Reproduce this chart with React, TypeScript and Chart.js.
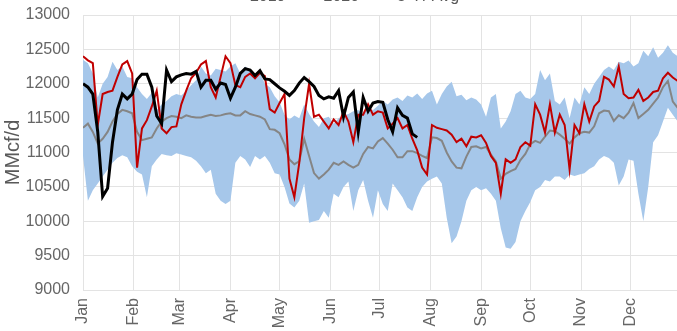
import { useEffect, useRef } from "react";
import { Chart, registerables } from "chart.js";

Chart.register(...registerables);

// Daily pipeline flow, MMcf/d, sampled every DAY_STEP days from Jan 1.
const DAY_STEP = 3;
const MONTHS = ["Jan", "Feb", "Mar", "Apr", "May", "Jun", "Jul", "Aug", "Sep", "Oct", "Nov", "Dec"];
const MONTH_START_DAYS = [0, 31, 59, 90, 120, 151, 181, 212, 243, 273, 304, 334];
const Y_MIN = 9000;
const Y_MAX = 13000;
const Y_STEP = 500;

const FLOW_2019 = [
  12400, 12340, 12300, 11400, 11850, 11880, 11900, 12100, 12280, 12330,
  12150, 10780, 11350, 11470, 11670, 11900, 11350, 11280, 11370, 11380,
  11700, 11900, 12080, 12160, 12280, 12330, 11950, 11800, 12100, 12400,
  12300, 11980, 11950, 12100, 12150, 12080, 12160, 12110, 11630, 11580,
  11720, 11850, 10620, 10350, 10850, 11500, 12000, 11520, 11550, 11450,
  11350, 11480, 11400, 11600, 11450, 11150, 11550, 11550, 11700, 11550,
  11600, 11580, 11350, 11420, 11500, 11350, 11400, 11200, 11030, 10780,
  10680, 11400, 11360, 11340, 11320, 11260, 11150, 11200, 11090, 11230,
  11220, 11250, 11140, 10950, 10850, 10400, 10900, 10850, 10900, 11080,
  11150, 11100, 11700, 11550, 11290, 11700, 11290, 11550, 11400, 10750,
  11400, 11280, 11700, 11450, 11670, 11750, 12100, 12060, 11960, 12250,
  11850, 11790, 11800, 11910, 11750, 11800, 11880, 11900, 12080, 12160,
  12090, 12040,
];

const FLOW_2020 = [
  12000, 11950, 11850, 11300, 10360, 10480, 11150, 11620, 11850, 11780,
  11850, 12060, 12140, 12140, 11950, 11530, 11420, 12200, 12030, 12100,
  12130, 12150, 12140, 12180, 11950, 12050, 12050, 11920, 12010, 11990,
  11790, 11950, 12150, 12220, 12200, 12120, 12190, 12070, 12060, 12000,
  11940, 11890, 11830, 11900, 12010, 12090, 12030, 11960, 11830, 11780,
  11810, 11790, 11900, 11520, 11800, 11880, 11300, 11800, 11600, 11720,
  11740, 11730, 11480, 11300, 11650, 11540, 11500, 11270, 11220,
];

const FIVE_YR_AVG = [
  11360, 11420, 11300, 11130, 11200, 11300, 11450, 11560, 11620, 11600,
  11570, 11300, 11180, 11200, 11220, 11350, 11450, 11500, 11530, 11520,
  11500, 11540, 11520, 11510, 11510, 11530, 11550, 11530, 11540, 11560,
  11570, 11540, 11540, 11600, 11560, 11540, 11520, 11480, 11340, 11330,
  11280, 11120, 10900, 10830, 10870, 11200, 10950, 10700, 10620, 10680,
  10750, 10850, 10820, 10870, 10820, 10780, 10820, 10980, 11080, 11060,
  11160, 11210, 11130, 11040, 10930, 10930, 11020, 11020, 10990, 10950,
  10920, 11220, 11210, 11170, 11000, 10870, 10780, 10770, 10940, 11080,
  11090, 11060, 11080, 10970, 10870, 10620, 10690, 10730, 10760, 10890,
  10980, 11120, 11170, 11140, 11230, 11320, 11310, 11260, 11200, 11130,
  11220, 11280, 11300, 11290, 11380, 11570, 11610, 11600, 11460, 11540,
  11500, 11580, 11720, 11500, 11560, 11620, 11710, 11800, 11950, 12040,
  11740, 11650,
];

const FIVE_YR_MAX = [
  12350, 12300, 12150, 11800, 12000, 12100, 12320, 12200, 12250, 12100,
  12080, 11950, 11850, 11780, 11870, 11620, 11700, 11750, 11820, 11850,
  11830, 11900, 11980, 12050, 12250, 12150, 12120, 12220, 12200, 12180,
  12250, 12300, 12150, 12250, 12200, 12100, 12160, 12000, 11950, 11820,
  11730, 11550, 11480, 11540, 11500, 11700, 11560, 11450, 11370, 11500,
  11520, 11420, 11500, 11540, 11560, 11600, 11620, 11550, 11650, 11620,
  11680, 11750, 11700, 11770, 11800, 11750, 11830, 11800, 11860, 11780,
  11860, 11900, 11700, 11850, 11960, 12030, 11820, 11840, 11760, 11800,
  11770, 11700, 11520, 11800, 11850, 11350, 11450, 11600, 11850, 11900,
  11800, 11780, 11850, 12200, 12050, 12150, 11750, 11700, 11800, 11500,
  11800, 11700, 11950, 11850, 12000, 12100, 12200, 12250, 12200, 12320,
  12300, 12340, 12250, 12300, 12480, 12400, 12530, 12380, 12450, 12560,
  12450, 12400,
];

const FIVE_YR_MIN = [
  10950, 10300, 10450, 10550, 10650, 10750, 10850, 10920, 10960, 10930,
  10800, 10720, 10680, 10350, 10800, 10900, 10980, 10960, 10950, 10990,
  10970, 10950, 10930, 10880, 10800, 10700, 10750, 10400, 10300, 10250,
  10300, 10850, 10950, 10900, 10790, 10950, 10900, 10950, 10850, 10700,
  10680, 10500, 10260, 10200, 10300, 10550, 9980, 10000, 10020, 10150,
  10050, 10400, 10350, 10500, 10580, 10150, 10450, 10600, 10300, 10050,
  10450, 10250, 10150, 10550, 10450, 10350, 10200, 10150, 10350, 10500,
  10580, 10620, 10650, 10550, 10050, 9680, 9780, 10000, 10300, 10450,
  10500, 10450, 10480, 10400, 10300, 9900, 9620, 9600, 9700, 10000,
  10150, 10280, 10450, 10500, 10600, 10580, 10650, 10650, 10600, 10680,
  10660, 10680, 10700, 10760, 10800, 10900, 10950, 10920, 10850, 10520,
  10650, 10900, 10880, 10400, 10000, 10500, 11150, 11250, 11450, 11650,
  11550, 11450,
];

const RED = "#c00000";
const BLACK = "#000000";
const GRAY = "#858585";
const BAND = "rgb(166, 199, 234)";
const TEXT = "#666666";

const toPoints = (values: number[]) => values.map((y, i) => ({ x: i * DAY_STEP, y }));

export default function App() {
  const canvasRef = useRef<HTMLCanvasElement | null>(null);

  useEffect(() => {
    if (!canvasRef.current) return;
    Chart.defaults.font.family = "'Liberation Sans', Arial, Helvetica, sans-serif";
    Chart.defaults.color = TEXT;

    const chart = new Chart(canvasRef.current, {
      type: "line",
      data: {
        datasets: [
          {
            label: "2019",
            data: toPoints(FLOW_2019),
            borderColor: RED,
            backgroundColor: RED,
            borderWidth: 2,
            pointRadius: 0,
            tension: 0,
            fill: false,
            order: 2,
          },
          {
            label: "2020",
            data: toPoints(FLOW_2020),
            borderColor: BLACK,
            backgroundColor: BLACK,
            borderWidth: 3,
            pointRadius: 0,
            tension: 0,
            fill: false,
            order: 1,
          },
          {
            label: "5-Yr Avg",
            data: toPoints(FIVE_YR_AVG),
            borderColor: GRAY,
            backgroundColor: GRAY,
            borderWidth: 2,
            pointRadius: 0,
            tension: 0,
            fill: false,
            order: 3,
          },
          {
            label: "5-Yr Max",
            data: toPoints(FIVE_YR_MAX),
            borderColor: BAND,
            backgroundColor: BAND,
            borderWidth: 0,
            pointRadius: 0,
            tension: 0,
            fill: "+1",
            order: 4,
          },
          {
            label: "5-Yr Min",
            data: toPoints(FIVE_YR_MIN),
            borderColor: BAND,
            backgroundColor: BAND,
            borderWidth: 0,
            pointRadius: 0,
            tension: 0,
            fill: false,
            order: 5,
          },
        ],
      },
      options: {
        animation: false,
        responsive: true,
        maintainAspectRatio: false,
        layout: { padding: { left: 0, right: 7, top: 0, bottom: 0 } },
        plugins: {
          tooltip: { enabled: false },
          legend: {
            position: "top",
            labels: {
              font: { size: 16 },
              color: "#595959",
              boxWidth: 20,
              boxHeight: 2,
              padding: 10,
              filter: (item) => item.datasetIndex !== undefined && item.datasetIndex < 3,
              sort: (a, b) => (a.datasetIndex ?? 0) - (b.datasetIndex ?? 0),
            },
          },
        },
        scales: {
          x: {
            type: "linear",
            min: 0,
            max: 365,
            border: { display: false },
            grid: { color: "#e3e3e3", drawTicks: false },
            afterBuildTicks: (scale) => {
              scale.ticks = MONTH_START_DAYS.map((value) => ({ value }));
            },
            afterFit: (scale) => {
              scale.height = 40;
            },
            ticks: {
              autoSkip: false,
              minRotation: 90,
              maxRotation: 90,
              padding: 8,
              font: { size: 16 },
              color: TEXT,
              callback: (value) => {
                const idx = MONTH_START_DAYS.indexOf(Number(value));
                return idx >= 0 ? MONTHS[idx] : "";
              },
            },
          },
          y: {
            min: Y_MIN,
            max: Y_MAX,
            border: { display: false },
            grid: { color: "#e3e3e3", drawTicks: false },
            afterFit: (scale) => {
              scale.width = 83;
            },
            title: {
              display: true,
              text: "MMcf/d",
              font: { size: 20 },
              color: "#595959",
              padding: { top: 1, bottom: 0 },
            },
            ticks: {
              stepSize: Y_STEP,
              padding: 13,
              font: { size: 16 },
              color: TEXT,
              callback: (value) => String(value),
            },
          },
        },
      },
    });

    return () => chart.destroy();
  }, []);

  return (
    <div style={{ position: "fixed", left: 0, top: 0, width: 677, height: 331, overflow: "hidden", background: "#fff" }}>
      <div style={{ position: "absolute", left: 0, top: -21, width: 688, height: 351 }}>
        <canvas ref={canvasRef} />
      </div>
    </div>
  );
}
